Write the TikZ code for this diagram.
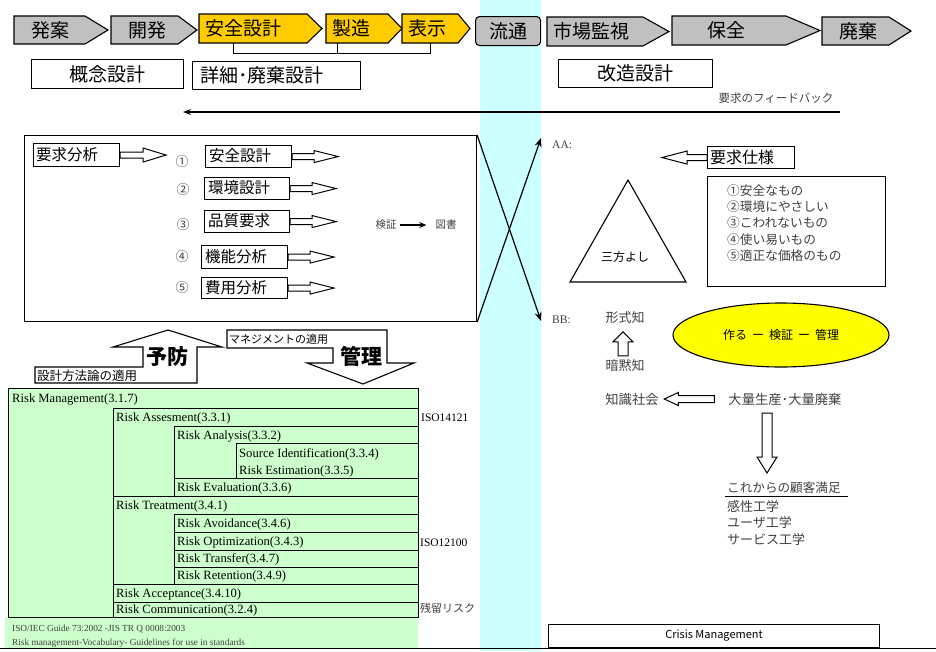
\documentclass[tikz,border=0pt]{standalone}
\usepackage{fontspec}
\setmainfont{Noto Sans CJK JP}
\newfontfamily\serifjp{Liberation Serif}
\usetikzlibrary{arrows.meta,calc,shapes.geometric}
\newcommand\fsz[1]{\fontsize{#1}{#1}\selectfont}
\definecolor{bgray}{HTML}{C0C0C0}
\definecolor{byellow}{HTML}{FFCC00}
\definecolor{cyanband}{HTML}{CCFFFF}
\definecolor{lgreen}{HTML}{CCFFCC}
\definecolor{eyellow}{HTML}{FFFF00}
\definecolor{tgray}{HTML}{404040}
\newcommand\bstep[9]{%
  \draw[bl, fill=#7] (#2,#5) -- (#3,#5) -- (#4,{(#5+#6)/2}) -- (#3,#6) -- (#2,#6) -- cycle;
  \node[btext] (#1) at (#9,{(#5+#6)/2}) {#8};}
\begin{document}
\begin{tikzpicture}[x=1pt,y=-1pt,
  bl/.style={draw=black,line width=1.1pt},
  btext/.style={font=\fsz{19},inner sep=0pt,text=black},
  box/.style={bl, fill=white, inner sep=0pt},
  jt/.style={inner sep=0pt, anchor=west},
  tt/.style={inner sep=0pt, anchor=west, font=\serifjp\fsz{12.6}},
  gt/.style={inner sep=0pt, text=tgray},
  tb/.style={draw=black, line width=1pt},
  hline/.style={draw=black, line width=1pt, fill=white, line join=miter},
  xarrow/.style={line width=1.2pt, -{Stealth[length=9pt,width=7pt]}},
  pics/harrow/.style n args={4}{code={\draw[hline] (0,-#4) -- ({#1-#2},-#4) -- ({#1-#2},-#3) -- (#1,0) -- ({#1-#2},#3) -- ({#1-#2},#4) -- (0,#4) -- cycle;}},
]
\useasboundingbox (0,0) rectangle (936,651);
\fill[cyanband] (480,0) rectangle (541,651);

% ---------- banner ----------
\bstep{hatsuan}{14}{85}{108}{16}{44}{bgray}{発案}{50}
\bstep{kaihatsu}{111}{178}{197}{16}{44}{bgray}{開発}{147}
\bstep{anzen}{199}{307}{322}{14}{43}{byellow}{安全設計}{243}
\bstep{seizo}{326}{388}{402}{14}{43}{byellow}{製造}{351}
\bstep{hyoji}{402}{458}{470}{14}{43}{byellow}{表示}{427}
\node[bl, fill=bgray, rounded corners=4pt, minimum width=65pt, minimum height=29pt, anchor=north west, btext] (ryutsu) at (475,16) {流通};
\bstep{shijo}{547}{643}{669}{17}{46}{bgray}{市場監視}{591}
\bstep{hozen}{672}{786}{820}{16}{45}{bgray}{保全}{726}
\bstep{haiki}{822}{889}{911}{17}{45}{bgray}{廃棄}{858}
\draw[line width=1pt] (233,43) -- (233,53) -- (430,53) -- (430,43);
\draw[line width=1pt] (337,43) -- (337,53);

\node[box, minimum width=152pt, minimum height=29pt, anchor=north west, font=\fsz{19}] (gainen) at (31,59) {概念設計};
\node[box, minimum width=168pt, minimum height=28pt, anchor=north west] (shosai) at (192,61) {};
\node[jt, font=\fsz{19}] (shosait) at (200,75) {詳細･廃棄設計};
\node[box, minimum width=154pt, minimum height=28pt, anchor=north west, font=\fsz{19}] (kaizo) at (558,59) {改造設計};

\node[gt, font=\fsz{11.5}] (fbtext) at (776,98) {要求のフィードバック};
\coordinate (fbs) at (840,112);
\coordinate (fbe) at (183,112);
\draw[line width=1.2pt, -{Stealth[length=8pt,width=6pt]}] (fbs) -- (fbe);

% ---------- left big box ----------
\node[bl, minimum width=452pt, minimum height=186pt, anchor=north west, inner sep=0pt] (bigbox) at (24,135) {};
\node[box, minimum width=86pt, minimum height=23pt, anchor=north west] (ybox) at (33,143) {};
\node[jt, font=\fsz{15.5}] (ytext) at (36,155) {要求分析};
\pic at (ybox.east) {harrow={46}{23}{7}{3}};

\node[gt, font=\fsz{13}] (n1) at (182,162) {①};
\node[gt, font=\fsz{13}] (n2) at (183,190) {②};
\node[gt, font=\fsz{13}] (n3) at (183,225) {③};
\node[gt, font=\fsz{13}] (n4) at (182,257) {④};
\node[gt, font=\fsz{13}] (n5) at (182,288) {⑤};

\node[box, minimum width=86pt, minimum height=22pt, anchor=north west] (b1) at (205,145) {};
\node[jt, font=\fsz{15.5}] (t1) at (209,156) {安全設計};
\pic at (b1.east) {harrow={46}{24}{6}{3}};
\node[box, minimum width=85pt, minimum height=22pt, anchor=north west] (b2) at (204,177) {};
\node[jt, font=\fsz{15.5}] (t2) at (208,188) {環境設計};
\pic at (b2.east) {harrow={46}{24}{6}{3}};
\node[box, minimum width=85pt, minimum height=22pt, anchor=north west] (b3) at (204,210) {};
\node[jt, font=\fsz{15.5}] (t3) at (208,221) {品質要求};
\pic at (b3.east) {harrow={46}{24}{6}{3}};
\node[box, minimum width=86pt, minimum height=23pt, anchor=north west] (b4) at (201,245) {};
\node[jt, font=\fsz{15.5}] (t4) at (205,257) {機能分析};
\pic at (b4.east) {harrow={46}{24}{6}{3}};
\node[box, minimum width=86pt, minimum height=21pt, anchor=north west] (b5) at (201,277) {};
\node[jt, font=\fsz{15.5}] (t5) at (205,288) {費用分析};
\pic at (b5.east) {harrow={46}{24}{6}{3}};

\node[gt, font=\fsz{10.5}] (kensho) at (386,225) {検証};
\node[gt, font=\fsz{10.5}] (tosho) at (446,225) {図書};
\draw[line width=1.2pt, -{Stealth[length=7pt,width=6pt]}, shorten <=3pt, shorten >=9pt] (kensho) -- (tosho);

% ---------- X arrows ----------
\coordinate (aatip) at (541,138);
\coordinate (bbtip) at (541,321);
\draw[xarrow] (bigbox.north east) -- (bbtip);
\draw[xarrow] (bigbox.south east) -- (aatip);
\node[jt, font=\serifjp\fsz{11.5}, text=tgray] (aa) at (552,145) {AA:};
\node[jt, font=\serifjp\fsz{11.5}, text=tgray] (bb) at (552,320) {BB:};

% ---------- right side ----------
\node[box, minimum width=87pt, minimum height=22pt, anchor=north west] (yqbox) at (707,146) {};
\node[jt, font=\fsz{16}] (yqtext) at (710,157) {要求仕様};
\pic[rotate=180] at (yqbox.west) {harrow={45}{25}{6.5}{3}};

\coordinate (tA) at (628,180);
\coordinate (tB) at (686,282);
\coordinate (tC) at (570,282);
\draw[bl, line join=miter] (tA) -- (tB) -- (tC) -- cycle;
\node[font=\fsz{12}, inner sep=0pt] (sanpo) at (625,257) {三方よし};

\node[box, minimum width=178pt, minimum height=110pt, anchor=north west] (listbox) at (707,176) {};
\node[gt, jt, font=\fsz{12.7}] (l1) at (727,191) {①安全なもの};
\node[gt, jt, font=\fsz{12.7}] (l2) at (727,207) {②環境にやさしい};
\node[gt, jt, font=\fsz{12.7}] (l3) at (727,223) {③こわれないもの};
\node[gt, jt, font=\fsz{12.7}] (l4) at (727,240) {④使い易いもの};
\node[gt, jt, font=\fsz{12.7}] (l5) at (727,256) {⑤適正な価格のもの};

\node[ellipse, draw=black, line width=1.1pt, fill=eyellow, minimum width=216pt, minimum height=64pt, inner sep=0pt, font=\fsz{12}] (ell) at (781,335) {作る\hspace{5pt}ー\hspace{5pt}検証\hspace{5pt}ー\hspace{5pt}管理};

\node[gt, font=\fsz{13}] (keishiki) at (625,318) {形式知};
\node[gt, font=\fsz{13}] (anmoku) at (625,366) {暗黙知};
\pic[rotate=90] at ($(anmoku.north)+(-2,-4)$) {harrow={24}{10}{10}{5}};

\node[gt, font=\fsz{13.3}] (chishiki) at (632,399) {知識社会};
\node[gt, font=\fsz{13.3}] (tairyo) at (785,399) {大量生産･大量廃棄};
\pic[rotate=180] at ($(tairyo.west)+(-14,0)$) {harrow={50}{14}{6.5}{3.5}};
\pic[rotate=-90] at (767,413) {harrow={60}{16}{10}{5}};

\node[gt, jt, font=\fsz{12.6}] (korekara) at (727,488) {これからの顧客満足};
\coordinate (ulA) at (725,496);
\coordinate (ulB) at (848,496);
\draw[line width=0.8pt] (ulA) -- (ulB);
\node[gt, jt, font=\fsz{13}] (kansei) at (727,507) {感性工学};
\node[gt, jt, font=\fsz{13}] (user) at (727,523) {ユーザ工学};
\node[gt, jt, font=\fsz{13}] (service) at (727,540) {サービス工学};

\node[box, minimum width=331pt, minimum height=23pt, anchor=north west, font=\fsz{11}] (crisis) at (548,624) {Crisis Management};

% ---------- yobo / kanri ----------
\draw[bl, fill=white, line join=miter] (35,383) -- (35,367) -- (143,367) -- (143,347) -- (113,347) -- (168,330) -- (222,347) -- (197,347) -- (197,383) -- cycle;
\draw[bl, fill=white, line join=miter] (227,330) -- (387,330) -- (387,363) -- (414,363) -- (363,384) -- (307,363) -- (333,363) -- (333,348) -- (227,348) -- cycle;
\node[font=\bfseries\fsz{21}, inner sep=0pt] (yobo) at (167,357) {予防};
\node[font=\bfseries\fsz{21}, inner sep=0pt] (kanri) at (361,356) {管理};
\node[jt, font=\fsz{12.5}] (sekkei) at (37,376) {設計方法論の適用};
\node[jt, font=\fsz{11}] (mgmt) at (229,339) {マネジメントの適用};

% ---------- risk table ----------
\fill[lgreen] (5,617) rectangle (418,648);
\draw[tb, fill=lgreen] (8,388) rectangle (418,617);
\draw[tb, fill=lgreen] (113,408) rectangle (418,496);
\draw[tb, fill=lgreen] (174,426) rectangle (418,478);
\draw[tb, fill=lgreen] (236,443) rectangle (418,478);
\draw[tb, fill=lgreen] (174,478) rectangle (418,496);
\draw[tb, fill=lgreen] (113,496) rectangle (418,584);
\draw[tb, fill=lgreen] (174,514) rectangle (418,532);
\draw[tb, fill=lgreen] (174,532) rectangle (418,550);
\draw[tb, fill=lgreen] (174,550) rectangle (418,567);
\draw[tb, fill=lgreen] (174,567) rectangle (418,584);
\draw[tb, fill=lgreen] (113,584) rectangle (418,602);
\draw[tb, fill=lgreen] (113,602) rectangle (418,617);

\node[tt] (rm) at (12,399) {Risk Management(3.1.7)};
\node[tt] (ras) at (116,418) {Risk Assesment(3.3.1)};
\node[tt] (ran) at (177,436) {Risk Analysis(3.3.2)};
\node[tt] (rsi) at (239,454) {Source Identification(3.3.4)};
\node[tt] (res) at (239,471) {Risk Estimation(3.3.5)};
\node[tt] (rev) at (177,488) {Risk Evaluation(3.3.6)};
\node[tt] (rtr) at (116,506) {Risk Treatment(3.4.1)};
\node[tt] (rav) at (177,524) {Risk Avoidance(3.4.6)};
\node[tt] (rop) at (177,542) {Risk Optimization(3.4.3)};
\node[tt] (rtf) at (177,559) {Risk Transfer(3.4.7)};
\node[tt] (rre) at (177,576) {Risk Retention(3.4.9)};
\node[tt] (rac) at (116,594) {Risk Acceptance(3.4.10)};
\node[tt] (rco) at (116,610) {Risk Communication(3.2.4)};

\node[tt, font=\serifjp\fsz{11.5}] (iso1) at (421,418) {ISO14121};
\node[tt, font=\serifjp\fsz{11.5}] (iso2) at (420,543) {ISO12100};
\node[gt, jt, font=\fsz{11}] (zanryu) at (420,608) {残留リスク};

\node[tt, font=\serifjp\fsz{9.3}, text=tgray] (fn1) at (12,629) {ISO/IEC Guide 73:2002 -JIS TR Q 0008:2003};
\node[tt, font=\serifjp\fsz{9.3}, text=tgray] (fn2) at (12,643) {Risk management-Vocabulary- Guidelines for use in standards};

\coordinate (blA) at (0,648.5);
\coordinate (blB) at (936,648.5);
\draw[line width=1.3pt] (blA) -- (blB);
\end{tikzpicture}
\end{document}
